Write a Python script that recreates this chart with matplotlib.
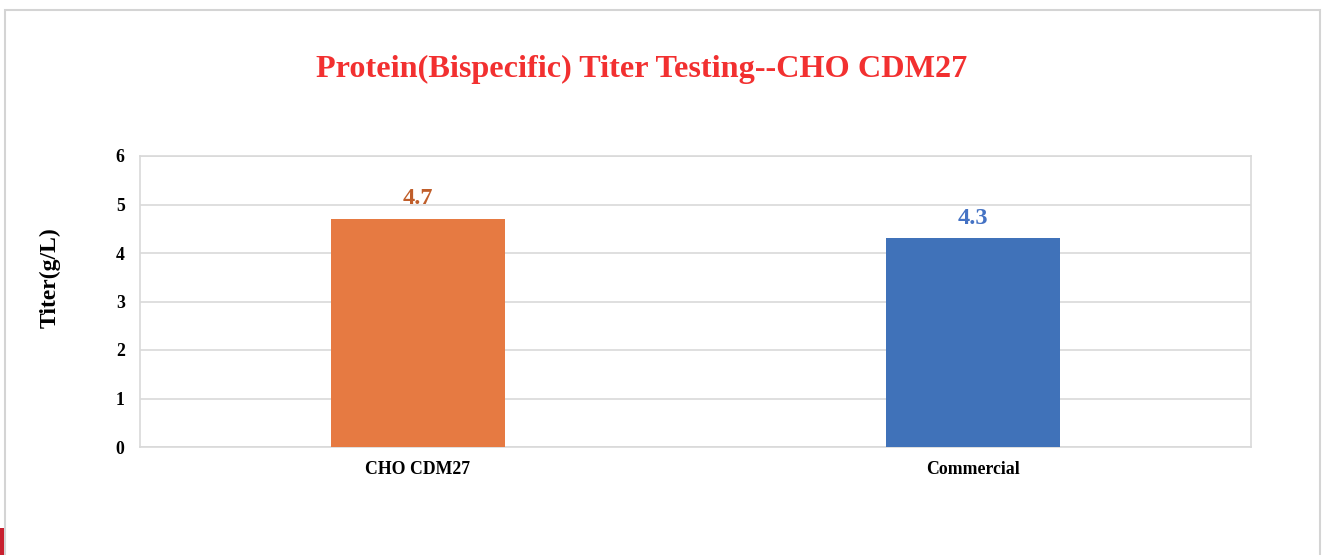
import matplotlib.pyplot as plt
from matplotlib.patches import Rectangle

categories = ["CHO CDM27", "Commercial"]
titers = [4.7, 4.3]
bar_colors = ["#E67A42", "#4072B9"]
label_colors = ["#C05E2A", "#4472C4"]
yticks = [0, 1, 2, 3, 4, 5, 6]

plt.rcParams['font.family'] = ['Liberation Serif', 'DejaVu Serif']

fig = plt.figure(figsize=(13.25, 5.55), dpi=100)
W, H = 1325, 555

# outer chart frame
fig.patches.append(Rectangle((5 / W, -0.05), 1315 / W, 1.05 - 10 / H, transform=fig.transFigure,
                             fill=False, edgecolor="#D4D4D4", linewidth=1.5))
# small red mark in the bottom-left corner
fig.patches.append(Rectangle((0, 0), 4 / W, 27 / H, transform=fig.transFigure,
                             facecolor="#C8202F", edgecolor="none"))

ax = fig.add_axes([140 / W, 1 - 447 / H, 1111 / W, 291 / H])
x = range(len(categories))
ax.bar(x, titers, width=0.313, color=bar_colors, zorder=3)
for i, v in enumerate(titers):
    ax.text(i, v + 0.2, f"{v}", ha="center", va="bottom", fontsize=17.5,
            fontweight="bold", color=label_colors[i])

ax.set_xlim(-0.5, 1.5)
ax.set_ylim(0, 6)
ax.set_yticks(yticks)
ax.set_xticks(list(x))
ax.set_xticklabels(categories)
ax.grid(axis="y", color="#D9D9D9", linewidth=1.2, zorder=0)
for s in ax.spines.values():
    s.set_color("#D9D9D9")
    s.set_linewidth(1.2)
ax.tick_params(length=0, labelsize=12.8, pad=10)
ax.tick_params(axis="y", pad=11)
for lbl in ax.get_xticklabels() + ax.get_yticklabels():
    lbl.set_fontweight("bold")

fig.text(50 / W, 1 - 278 / H, "Titer(g/L)", rotation=90, ha="center", va="center",
         fontsize=17, fontweight="bold")
fig.text(642 / W, 1 - 69 / H, "Protein(Bispecific) Titer Testing--CHO CDM27", ha="center",
         va="center", fontsize=23.2, fontweight="bold", color="#F23030")

fig.savefig("out.png", dpi=100)
